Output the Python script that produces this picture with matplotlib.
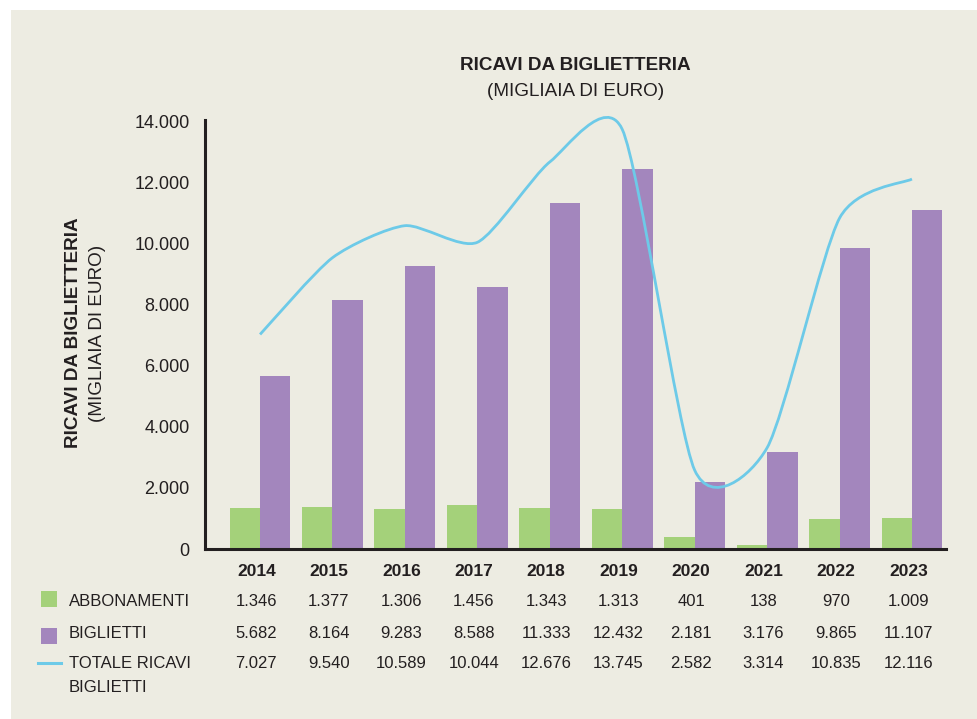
import numpy as np
import matplotlib
matplotlib.use('Agg')
import matplotlib.pyplot as plt
from matplotlib.path import Path
from matplotlib.patches import PathPatch, Rectangle
from matplotlib.lines import Line2D
from matplotlib.transforms import blended_transform_factory

plt.rcParams['font.family'] = ['Liberation Sans', 'DejaVu Sans']

years = ['2014', '2015', '2016', '2017', '2018', '2019', '2020', '2021', '2022', '2023']
abbonamenti = [1346, 1377, 1306, 1456, 1343, 1313, 401, 138, 970, 1009]
biglietti = [5682, 8164, 9283, 8588, 11333, 12432, 2181, 3176, 9865, 11107]
totale = [7027, 9540, 10589, 10044, 12676, 13745, 2582, 3314, 10835, 12116]
yticks = [0, 2000, 4000, 6000, 8000, 10000, 12000, 14000]

BG = '#EDECE2'
GREEN = '#A4D17A'
PURPLE = '#A386BD'
CYAN = '#6DCAE8'
TXT = '#231F20'

W, H = 977, 719
fig = plt.figure(figsize=(W / 100, H / 100), dpi=100, facecolor='white')

def fx(x):
    return x / W

def fy(y):
    return 1 - y / H

# beige panel (white strip on top and left)
fig.patches.append(Rectangle((fx(11), 0), 1, fy(10), transform=fig.transFigure,
                             facecolor=BG, edgecolor='none', zorder=-10))

ax = fig.add_axes([fx(205), fy(549), fx(946) - fx(205), fy(120) - fy(549)])
ax.set_facecolor('none')

x = np.arange(len(years))
w = 0.42
ax.bar(x - w / 2, abbonamenti, width=w, color=GREEN, zorder=2)
ax.bar(x + w / 2, biglietti, width=w, color=PURPLE, zorder=2)

# smooth total line (Catmull-Rom style cubic bezier, reduced tension)
k = 0.7
pts = np.column_stack([x, totale]).astype(float)
verts = [tuple(pts[0])]
codes = [Path.MOVETO]
n = len(pts)
for i in range(n - 1):
    p0 = pts[max(i - 1, 0)]
    p1 = pts[i]
    p2 = pts[i + 1]
    p3 = pts[min(i + 2, n - 1)]
    c1 = p1 + k * (p2 - p0) / 6
    c2 = p2 - k * (p3 - p1) / 6
    verts += [tuple(c1), tuple(c2), tuple(p2)]
    codes += [Path.CURVE4] * 3
ax.add_patch(PathPatch(Path(verts, codes), facecolor='none', edgecolor=CYAN,
                       lw=2.0, zorder=3, capstyle='butt', clip_on=False))

ax.set_xlim(-0.76, 9.47)
ax.set_ylim(0, 14050)
ax.set_xticks([])
ax.set_yticks(yticks)
ax.set_yticklabels([f'{v:,}'.replace(',', '.') for v in yticks], fontsize=13, color=TXT)
ax.tick_params(axis='y', length=0, pad=11)
for s in ['top', 'right']:
    ax.spines[s].set_visible(False)
for s in ['left', 'bottom']:
    ax.spines[s].set_linewidth(2.2)
    ax.spines[s].set_color(TXT)
    ax.spines[s].set_zorder(4)

# titles
cx = (fx(205) + fx(946)) / 2
fig.text(cx, fy(65), 'RICAVI DA BIGLIETTERIA', ha='center', va='center',
         fontsize=13.6, fontweight='bold', color=TXT)
fig.text(cx, fy(92), '(MIGLIAIA DI EURO)', ha='center', va='center',
         fontsize=13.6, color=TXT)
fig.text(fx(73), fy(333), 'RICAVI DA BIGLIETTERIA', ha='center', va='center',
         rotation=90, fontsize=13.6, fontweight='bold', color=TXT)
fig.text(fx(97), fy(333), '(MIGLIAIA DI EURO)', ha='center', va='center',
         rotation=90, fontsize=13.6, color=TXT)

# table under the chart
tr = blended_transform_factory(ax.transData, fig.transFigure)
fmt = lambda v: f'{v:,}'.replace(',', '.')
for i, yr in enumerate(years):
    ax.text(i - 0.05, fy(572), yr, transform=tr, ha='center', va='center',
            fontsize=12.5, fontweight='bold', color=TXT)
    ax.text(i - 0.05, fy(602), fmt(abbonamenti[i]), transform=tr, ha='center',
            va='center', fontsize=12, color=TXT)
    ax.text(i - 0.05, fy(634), fmt(biglietti[i]), transform=tr, ha='center',
            va='center', fontsize=12, color=TXT)
    ax.text(i - 0.05, fy(664), fmt(totale[i]), transform=tr, ha='center',
            va='center', fontsize=12, color=TXT)

# legend column
fig.patches.append(Rectangle((fx(41), fy(607)), fx(16), fy(591) - fy(607),
                             transform=fig.transFigure, facecolor=GREEN, edgecolor='none'))
fig.patches.append(Rectangle((fx(41), fy(644)), fx(16), fy(628) - fy(644),
                             transform=fig.transFigure, facecolor=PURPLE, edgecolor='none'))
fig.lines.append(Line2D([fx(38), fx(61)], [fy(663), fy(663)], transform=fig.transFigure,
                        color=CYAN, lw=2.2))
for label, yy in [('ABBONAMENTI', 602), ('BIGLIETTI', 634),
                  ('TOTALE RICAVI', 664), ('BIGLIETTI', 688)]:
    fig.text(fx(69), fy(yy), label, ha='left', va='center', fontsize=12, color=TXT)

fig.savefig('out.png', dpi=100, facecolor=fig.get_facecolor())
